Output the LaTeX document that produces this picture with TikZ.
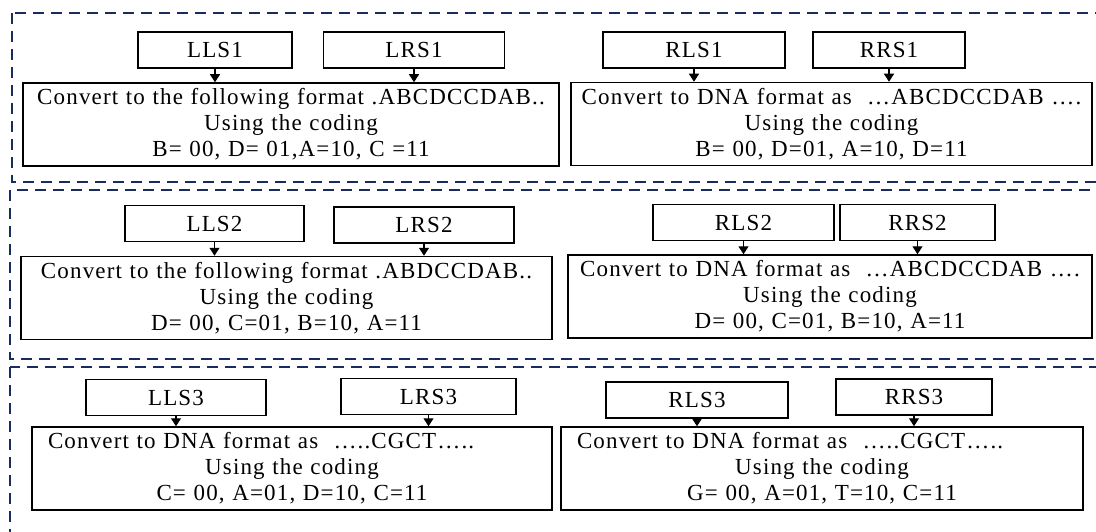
\documentclass[tikz,border=0pt]{standalone}
\usepackage{fontspec}
\setmainfont{Liberation Serif}[LetterSpace=5]
\usepackage{xcolor}
\usetikzlibrary{arrows.meta}
\definecolor{navy}{RGB}{24,44,94}
\tikzstyle{seg} = [rectangle, minimum height=36pt, text centered, draw=black, line width=1.5pt, fill=white]
\tikzstyle{conv} = [rectangle, minimum height=83pt, align=center, inner xsep=4pt, draw=black, line width=1.5pt, fill=white]
\tikzstyle{panel} = [draw=navy, line width=2.2pt, dash pattern=on 11pt off 7pt]
\tikzstyle{arrow} = [line width=1.2pt, -{Triangle[width=10pt,length=8pt]}]

\begin{document}
\begin{tikzpicture}[x=1pt, y=-1pt, font=\fontsize{23}{26}\selectfont]

\useasboundingbox (0,0) rectangle (1096,532);
\clip (0,0) rectangle (1096,532);

\draw [panel] (12,13) rectangle (1110,182);
\draw [panel] (10,190) rectangle (1110,359);
\draw [panel] (10,367) rectangle (1110,550);

\node (lls1) [seg, minimum width=154pt] at (215,50) {LLS1};
\node (lrs1) [seg, minimum width=181pt] at (414,50) {LRS1};
\node (rls1) [seg, minimum width=182pt] at (694,50) {RLS1};
\node (rrs1) [seg, minimum width=152pt] at (889,50) {RRS1};

\node (l1) [conv, text width=528pt] at (291,124.5) {Convert to the following format .ABCDCCDAB..\\ Using the coding\\ B= 00, D= 01,A=10, C =11};
\node (r1) [conv, text width=513pt] at (831.5,124) {Convert to DNA format as~ …ABCDCCDAB ….\\ Using the coding\\ B= 00, D=01, A=10, D=11};

\node (lls2) [seg, minimum width=179pt] at (214.5,223.5) {LLS2};
\node (lrs2) [seg, minimum width=180pt] at (424,225) {LRS2};
\node (rls2) [seg, minimum width=181pt] at (743.5,222.5) {RLS2};
\node (rrs2) [seg, minimum width=155pt] at (917.5,222.5) {RRS2};

\node (l2) [conv, text width=523pt] at (286.5,298) {Convert to the following format .ABDCCDAB..\\ Using the coding\\ D= 00, C=01, B=10, A=11};
\node (r2) [conv, text width=516pt] at (830,296.5) {Convert to DNA format as~ …ABCDCCDAB ….\\ Using the coding\\ D= 00, C=01, B=10, A=11};

\node (lls3) [seg, minimum width=180pt] at (176,397.5) {LLS3};
\node (lrs3) [seg, minimum width=175pt] at (428.5,396.5) {LRS3};
\node (rls3) [seg, minimum width=182pt] at (697,400) {RLS3};
\node (rrs3) [seg, minimum width=156pt] at (914,397) {RRS3};

\node (l3) [conv, text width=512pt] at (292,468.5) {\makebox[512pt][l]{\hspace*{12pt}Convert to DNA format as~ …..CGCT…..}\\ Using the coding\\ C= 00, A=01, D=10, C=11};
\node (r3) [conv, text width=514pt] at (822,468.5) {\makebox[514pt][l]{\hspace*{12pt}Convert to DNA format as~ …..CGCT…..}\\ Using the coding\\ G= 00, A=01, T=10, C=11};

\draw [arrow] (lls1) -- (lls1 |- l1.north);
\draw [arrow] (lrs1) -- (lrs1 |- l1.north);
\draw [arrow] (rls1) -- (rls1 |- r1.north);
\draw [arrow] (rrs1) -- (rrs1 |- r1.north);

\draw [arrow] (lls2) -- (lls2 |- l2.north);
\draw [arrow] (lrs2) -- (lrs2 |- l2.north);
\draw [arrow] (rls2) -- (rls2 |- r2.north);
\draw [arrow] (rrs2) -- (rrs2 |- r2.north);

\draw [arrow] (lls3) -- (lls3 |- l3.north);
\draw [arrow] (lrs3) -- (lrs3 |- l3.north);
\draw [arrow] (rls3) -- (rls3 |- r3.north);
\draw [arrow] (rrs3) -- (rrs3 |- r3.north);

\end{tikzpicture}
\end{document}
